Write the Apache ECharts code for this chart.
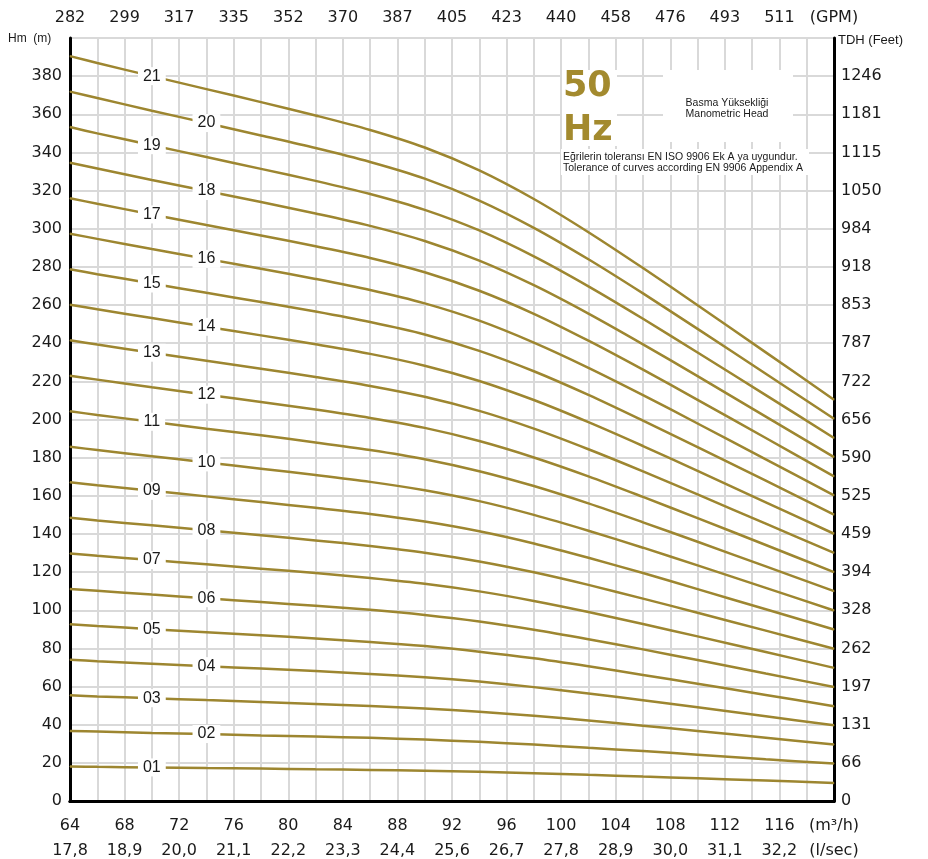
<!DOCTYPE html>
<html>
<head>
<meta charset="utf-8">
<script src="https://cdn.jsdelivr.net/npm/echarts@6/dist/echarts.min.js"></script>
<style>
  html, body { margin: 0; padding: 0; background: #fff; }
  #container { width: 928px; height: 859px; }
</style>
</head>
<body>
<div id="container"></div>
<script>
// flow points (m3/h) where the curves were read
const xFlow = [64, 66, 70, 74, 78, 82, 86, 90, 94, 98, 102, 106, 110, 115, 120];

// head (m) per stage count
const head01 = [18.1, 17.9, 17.6, 17.3, 17.0, 16.6, 16.3, 15.8, 15.3, 14.6, 13.7, 12.8, 11.9, 10.7, 9.5];
const head02 = [36.7, 36.4, 35.7, 35.1, 34.4, 33.8, 33.1, 32.2, 31.0, 29.6, 27.9, 26.2, 24.3, 21.9, 19.6];
const head03 = [55.4, 54.8, 53.9, 52.9, 51.9, 50.9, 49.8, 48.5, 46.8, 44.7, 42.2, 39.5, 36.7, 33.2, 29.6];
const head04 = [74.0, 73.3, 72.0, 70.7, 69.4, 68.1, 66.6, 64.9, 62.6, 59.7, 56.4, 52.8, 49.1, 44.4, 39.7];
const head05 = [92.6, 91.7, 90.1, 88.5, 86.9, 85.2, 83.4, 81.2, 78.3, 74.8, 70.6, 66.1, 61.5, 55.6, 49.7];
const head06 = [111.2, 110.2, 108.2, 106.3, 104.3, 102.3, 100.2, 97.5, 94.1, 89.8, 84.8, 79.5, 73.9, 66.8, 59.8];
const head07 = [129.8, 128.6, 126.3, 124.1, 121.8, 119.5, 116.9, 113.9, 109.9, 104.9, 99.1, 92.8, 86.3, 78.1, 69.8];
const head08 = [148.5, 147.1, 144.5, 141.9, 139.3, 136.6, 133.7, 130.2, 125.6, 119.9, 113.3, 106.1, 98.7, 89.3, 79.8];
const head09 = [167.1, 165.5, 162.6, 159.7, 156.7, 153.7, 150.5, 146.5, 141.4, 135.0, 127.5, 119.5, 111.1, 100.5, 89.9];
const head10 = [185.7, 184.0, 180.7, 177.5, 174.2, 170.9, 167.3, 162.9, 157.2, 150.0, 141.7, 132.8, 123.5, 111.7, 99.9];
const head11 = [204.3, 202.4, 198.8, 195.2, 191.7, 188.0, 184.0, 179.2, 172.9, 165.1, 156.0, 146.1, 135.9, 123.0, 110.0];
const head12 = [222.9, 220.9, 216.9, 213.0, 209.2, 205.2, 200.8, 195.6, 188.7, 180.1, 170.2, 159.4, 148.3, 134.2, 120.0];
const head13 = [241.5, 239.3, 235.0, 230.8, 226.6, 222.3, 217.6, 211.9, 204.5, 195.2, 184.4, 172.8, 160.7, 145.4, 130.1];
const head14 = [260.2, 257.8, 253.2, 248.6, 244.1, 239.4, 234.4, 228.2, 220.2, 210.2, 198.6, 186.1, 173.1, 156.6, 140.1];
const head15 = [278.8, 276.2, 271.3, 266.4, 261.6, 256.6, 251.1, 244.6, 236.0, 225.3, 212.9, 199.4, 185.5, 167.9, 150.1];
const head16 = [297.4, 294.7, 289.4, 284.2, 279.0, 273.7, 267.9, 260.9, 251.8, 240.3, 227.1, 212.8, 197.9, 179.1, 160.2];
const head17 = [316.0, 313.1, 307.5, 302.0, 296.5, 290.8, 284.7, 277.2, 267.5, 255.4, 241.3, 226.1, 210.3, 190.3, 170.2];
const head18 = [334.6, 331.6, 325.6, 319.8, 314.0, 308.0, 301.5, 293.6, 283.3, 270.4, 255.5, 239.4, 222.7, 201.5, 180.3];
const head19 = [353.3, 350.0, 343.8, 337.6, 331.4, 325.1, 318.2, 309.9, 299.1, 285.5, 269.8, 252.8, 235.1, 212.8, 190.3];
const head20 = [371.9, 368.5, 361.9, 355.4, 348.9, 342.3, 335.0, 326.3, 314.8, 300.5, 284.0, 266.1, 247.5, 224.0, 200.4];
const head21 = [390.5, 386.9, 380.0, 373.2, 366.4, 359.4, 351.8, 342.6, 330.6, 315.6, 298.2, 279.4, 259.9, 235.2, 210.4];

const curveNames = ['01', '02', '03', '04', '05', '06', '07', '08', '09', '10', '11',
    '12', '13', '14', '15', '16', '17', '18', '19', '20', '21'];

// tick labels
const gpmLabels = ['282', '299', '317', '335', '352', '370', '387', '405', '423', '440', '458', '476', '493', '511', '(GPM)'];
const lsecLabels = ['17,8', '18,9', '20,0', '21,1', '22,2', '23,3', '24,4', '25,6', '26,7', '27,8', '28,9', '30,0', '31,1', '32,2'];
const feetLabels = ['0', '66', '131', '197', '262', '328', '394', '459', '525', '590', '656', '722', '787',
    '853', '918', '984', '1050', '1115', '1181', '1246'];

const heads = [head01, head02, head03, head04, head05, head06, head07, head08, head09, head10, head11,
    head12, head13, head14, head15, head16, head17, head18, head19, head20, head21];

let curveColor = '#9d8630';
let goldText = '#a38a2e';
let gridColor = '#d9d9d9';
let axisFont = 'DejaVu Sans';

let series = heads.map(function (vals, i) {
    let name = curveNames[i];
    // odd curves are labelled at 70, even ones at 74
    let labelIdx = (i % 2 === 0) ? xFlow.indexOf(70) : xFlow.indexOf(74);
    return {
        type: 'line',
        name: name,
        smooth: 0.3,
        symbol: 'circle',
        symbolSize: 1,
        showSymbol: true,
        showAllSymbol: true,
        itemStyle: { color: curveColor },
        lineStyle: { color: curveColor, width: 2.5 },
        emphasis: { disabled: true },
        z: 3,
        data: vals.map(function (v, j) {
            if (j === labelIdx) {
                return {
                    value: [xFlow[j], v],
                    label: {
                        show: true,
                        position: 'inside',
                        formatter: name,
                        fontFamily: 'Liberation Sans',
                        fontSize: 16,
                        color: '#1a1a1a',
                        backgroundColor: '#fff',
                        padding: [1, 5, 1, 5]
                    }
                };
            }
            return [xFlow[j], v];
        })
    };
});

let dom = document.getElementById('container');
let myChart = echarts.init(dom, null, { renderer: 'canvas' });

let option = {
    animation: false,
    backgroundColor: '#fff',
    grid: { left: 70, right: 94, top: 38, bottom: 58, outerBoundsMode: 'none' },
    xAxis: [
        {
            type: 'value',
            position: 'bottom',
            min: 64,
            max: 120,
            interval: 4,
            axisLine: { show: true, lineStyle: { color: '#000', width: 3 } },
            axisTick: { show: false },
            axisLabel: {
                fontFamily: axisFont,
                fontSize: 16,
                color: '#1a1a1a',
                margin: 12,
                lineHeight: 25,
                formatter: function (v) {
                    let k = Math.round((v - 64) / 4);
                    if (v === 120) return '(m³/h)\n(l/sec)';
                    return v + '\n' + lsecLabels[k];
                }
            },
            splitLine: { show: true, lineStyle: { color: gridColor, width: 2 } },
            minorTick: { show: false, splitNumber: 2 },
            minorSplitLine: { show: true, lineStyle: { color: gridColor, width: 2 } }
        },
        {
            type: 'value',
            position: 'top',
            min: 64,
            max: 120,
            interval: 4,
            axisLine: { show: true, lineStyle: { color: '#000', width: 3 } },
            axisTick: { show: false },
            splitLine: { show: false },
            axisLabel: {
                fontFamily: axisFont,
                fontSize: 16,
                color: '#1a1a1a',
                margin: 12,
                formatter: function (v) {
                    return gpmLabels[Math.round((v - 64) / 4)];
                }
            }
        }
    ],
    yAxis: [
        {
            type: 'value',
            position: 'left',
            min: 0,
            max: 400,
            interval: 20,
            axisLine: { show: true, lineStyle: { color: '#000', width: 3 } },
            axisTick: { show: false },
            splitLine: { show: true, lineStyle: { color: gridColor, width: 2 } },
            axisLabel: {
                fontFamily: axisFont,
                fontSize: 16,
                color: '#1a1a1a',
                margin: 8,
                formatter: function (v) { return v >= 400 ? '' : String(v); }
            }
        },
        {
            type: 'value',
            position: 'right',
            min: 0,
            max: 400,
            interval: 20,
            axisLine: { show: true, lineStyle: { color: '#000', width: 3 } },
            axisTick: { show: false },
            splitLine: { show: false },
            axisLabel: {
                fontFamily: axisFont,
                fontSize: 16,
                color: '#1a1a1a',
                margin: 7,
                formatter: function (v) {
                    let s = feetLabels[Math.round(v / 20)];
                    return s === undefined ? '' : s;
                }
            }
        }
    ],
    graphic: [
        {
            type: 'text', left: 8, top: 33, z: 10,
            style: { text: 'Hm  (m)', font: '12px "Liberation Sans"', fill: '#1a1a1a' }
        },
        {
            type: 'text', left: 838, top: 34, z: 10,
            style: { text: 'TDH (Feet)', font: '13px "Liberation Sans"', fill: '#1a1a1a' }
        },
        {
            type: 'rect', z: 1,
            shape: { x: 562, y: 70, width: 55, height: 76 },
            style: { fill: '#fff' }
        },
        {
            type: 'text', left: 563, top: 69, z: 10,
            style: { text: '50', font: 'bold 35px "DejaVu Sans"', fill: goldText }
        },
        {
            type: 'text', left: 563, top: 113, z: 10,
            style: { text: 'Hz', font: 'bold 35px "DejaVu Sans"', fill: goldText }
        },
        {
            type: 'rect', z: 1,
            shape: { x: 663, y: 70, width: 130, height: 72 },
            style: { fill: '#fff' }
        },
        {
            type: 'text', z: 10,
            x: 727, y: 109,
            style: {
                text: 'Basma Yüksekliği\nManometric Head',
                font: '10.5px "Liberation Sans"',
                fill: '#1a1a1a',
                align: 'center',
                verticalAlign: 'middle',
                lineHeight: 11
            }
        },
        {
            type: 'rect', z: 1,
            shape: { x: 561, y: 149, width: 248, height: 26 },
            style: { fill: '#fff' }
        },
        {
            type: 'text', left: 563, top: 152, z: 10,
            style: {
                text: 'Eğrilerin toleransı EN ISO 9906 Ek A ya uygundur.\nTolerance of curves according EN 9906 Appendix A',
                font: '10.5px "Liberation Sans"',
                fill: '#1a1a1a',
                lineHeight: 11
            }
        }
    ],
    series: series
};
myChart.setOption(option);
</script>
</body>
</html>
